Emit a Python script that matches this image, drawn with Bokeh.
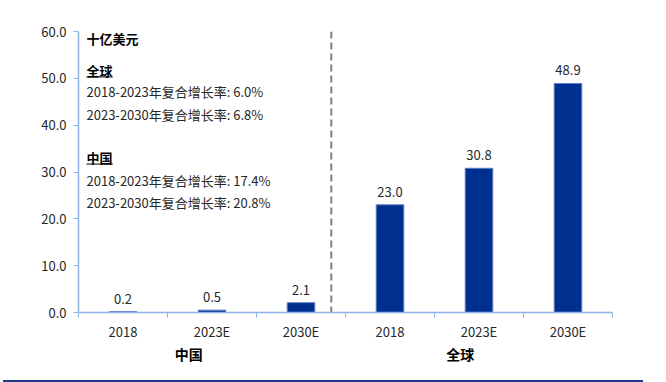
from bokeh.plotting import figure
from bokeh.models import FixedTicker, Range1d, Span, PrintfTickFormatter, LinearAxis, Div
from bokeh.layouts import column
from bokeh.embed import file_html
from bokeh.resources import INLINE
from bokeh.core.properties import value

# ---- data ----
categories = ["2018", "2023E", "2030E", "2018", "2023E", "2030E"]
groups = ["中国", "全球"]
china_values = [0.2, 0.5, 2.1]
global_values = [23.0, 30.8, 48.9]
y_ticks = [0, 10, 20, 30, 40, 50, 60]
unit_label = "十亿美元"
global_cagr = ["2018-2023年复合增长率: 6.0%", "2023-2030年复合增长率:  6.8%"]
china_cagr = ["2018-2023年复合增长率: 17.4%", "2023-2030年复合增长率: 20.8%"]

FONT = "Noto Sans CJK SC"
BAR = "#00308F"
AXIS = "#8DB4E2"
TXT = "#262626"

values = china_values + global_values
xs = [i + 0.5 for i in range(len(values))]
n = len(values)

p = figure(width=650, height=375, x_range=Range1d(0, n), y_range=Range1d(0, 60),
           output_backend="svg", toolbar_location=None,
           min_border_left=78, min_border_right=38, min_border_top=31, min_border_bottom=63)
p.grid.visible = False
p.outline_line_color = None

# bars
p.vbar(x=xs, top=values, width=0.31, fill_color=BAR, line_color="#5E7FC4", line_width=1)
p.text(x=xs, y=values, text=[f"{v:.1f}" for v in values], text_align="center",
       text_baseline="bottom", y_offset=-8, text_font=value(FONT), text_font_size="13px",
       text_color=TXT)

# x axis (categories)
xa = p.xaxis[0]
xa.ticker = FixedTicker(ticks=xs, minor_ticks=list(range(n + 1)))
xa.major_label_overrides = {x: c for x, c in zip(xs, categories)}
xa.major_tick_out = 0
xa.major_tick_in = 0
xa.minor_tick_out = 5
xa.minor_tick_in = 0
xa.minor_tick_line_color = AXIS
xa.axis_line_color = AXIS
xa.axis_line_width = 1.5
xa.major_label_standoff = 4
xa.major_label_text_font = FONT
xa.major_label_text_font_size = "13px"
xa.major_label_text_color = TXT

# group labels: a second axis below
group_x = [1.24, 4.29]
ga = LinearAxis(ticker=FixedTicker(ticks=group_x),
                major_label_overrides={x: g for x, g in zip(group_x, groups)})
ga.axis_line_color = None
ga.major_tick_line_color = None
ga.minor_tick_line_color = None
ga.major_tick_out = 0
ga.major_tick_in = 0
ga.major_label_standoff = 0
ga.major_label_text_font = FONT
ga.major_label_text_font_size = "14px"
ga.major_label_text_font_style = "bold"
ga.major_label_text_color = "#000000"
p.add_layout(ga, "below")

# y axis
ya = p.yaxis[0]
ya.ticker = FixedTicker(ticks=y_ticks)
ya.formatter = PrintfTickFormatter(format="%.1f")
ya.major_tick_out = 5
ya.major_tick_in = 0
ya.major_tick_line_color = AXIS
ya.minor_tick_line_color = None
ya.axis_line_color = AXIS
ya.axis_line_width = 1.5
ya.major_label_standoff = 7
ya.major_label_text_font = FONT
ya.major_label_text_font_size = "13px"
ya.major_label_text_color = TXT

# divider
p.add_layout(Span(location=2.84, dimension="height", line_color="#808080",
                  line_dash="7 4", line_width=2))

# notes
note_x = 0.09
p.text(x=[note_x] * 3, y=[58.5, 51.7, 33.1], text=[unit_label, groups[1], groups[0]],
       text_baseline="middle", text_font=value(FONT), text_font_size="13px",
       text_font_style="bold", text_color="#000000")
p.text(x=[note_x] * 4, y=[47.2, 42.3, 28.2, 23.5], text=global_cagr + china_cagr,
       text_baseline="middle", text_font=value(FONT), text_font_size="13px",
       text_color=TXT)
p.segment(x0=[note_x] * 2, x1=[0.385] * 2, y0=[50.3, 31.7], y1=[50.3, 31.7],
          line_color="#000000", line_width=1)

# bottom rule
rule = Div(text="", width=640, height=3,
           styles={"background-color": "#1F3C8C", "margin-left": "3px"})

layout = column(p, rule)
open("out.html", "w").write(file_html(layout, INLINE))
